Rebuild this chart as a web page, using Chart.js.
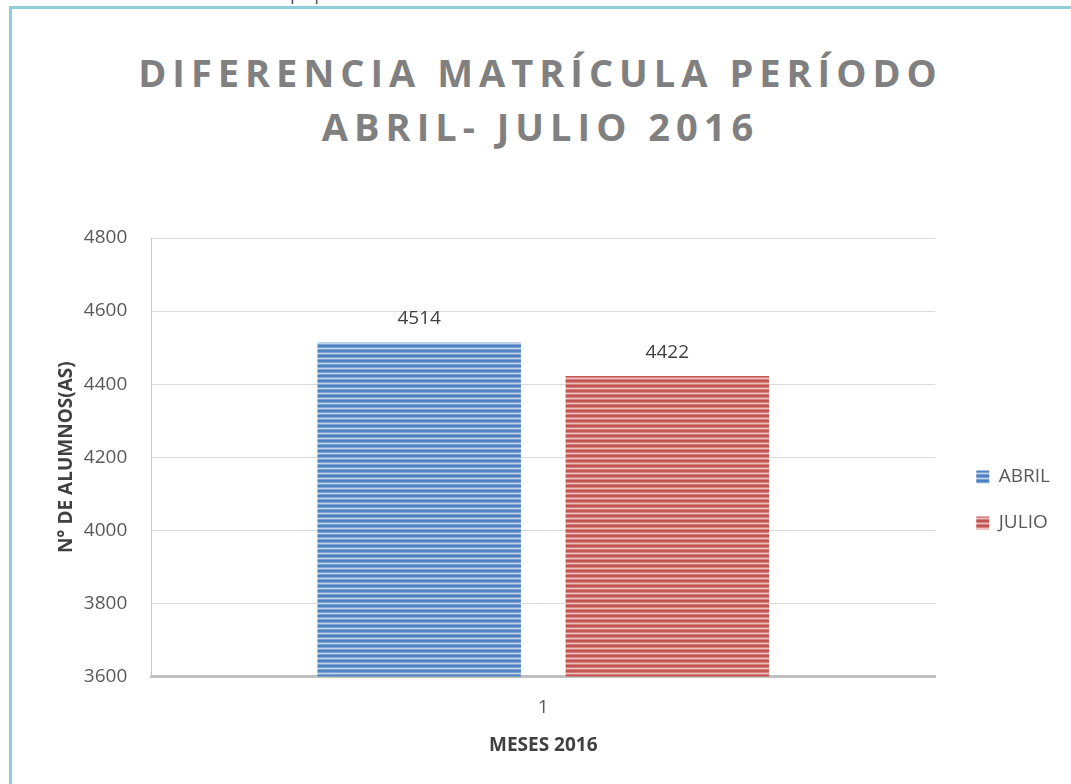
<!DOCTYPE html>
<html>
<head>
<meta charset="utf-8">
<script src="https://cdn.jsdelivr.net/npm/chart.js@4"></script>
<style>
  html, body { margin: 0; padding: 0; background: #fff; }
  #page { position: relative; width: 1071px; height: 784px; overflow: hidden; font-family: "Open Sans", sans-serif; }
  #frame { position: absolute; left: 9px; top: 6px; right: -10px; bottom: -10px; border-left: 3px solid #93CDDD; border-top: 3px solid #93CDDD; }
  #source { position: absolute; left: 148px; top: -16px; font-size: 15px; color: #333; }
  #title { position: absolute; left: 10px; right: 0; top: 45px; text-align: center; font-weight: 700; font-size: 38px; line-height: 54px; letter-spacing: 6px; color: #808080; }
  #chart { position: absolute; left: 0; top: 0; }
</style>
</head>
<body>
<div id="page">
  <div id="source">Fuente: elaboración propia</div>
  <div id="frame"></div>
  <div id="title">DIFERENCIA MATRÍCULA PERÍODO<br>ABRIL- JULIO 2016</div>
  <canvas id="chart" width="1071" height="784"></canvas>
</div>
<script>
const categories = ["1"];
const seriesNames = ["ABRIL", "JULIO"];
const abrilValues = [4514];
const julioValues = [4422];
const yTicks = [3600, 3800, 4000, 4200, 4400, 4600, 4800];

// striped fill like the original
const stripes = (rows) => {
  const c = document.createElement("canvas");
  c.width = 4;
  c.height = rows.length;
  const g = c.getContext("2d");
  rows.forEach((col, i) => {
    g.fillStyle = col;
    g.fillRect(0, i, 4, 1);
  });
  return g.createPattern(c, "repeat");
};
const blueFill = stripes(["#4a7dbd", "#5185c3", "#7ea3d3", "#c3d5ec", "#7ea3d3"]);
const redFill = stripes(["#bf4f4c", "#c45956", "#d4827f", "#edc0bf", "#d4827f"]);

const barLabels = {
  id: "barLabels",
  afterDatasetsDraw(chart) {
    const ctx = chart.ctx;
    ctx.save();
    ctx.font = "19px 'Open Sans'";
    ctx.fillStyle = "#404040";
    ctx.textAlign = "center";
    ctx.textBaseline = "middle";
    chart.data.datasets.forEach((ds, i) => {
      chart.getDatasetMeta(i).data.forEach((bar, j) => {
        ctx.fillText(String(ds.data[j]), bar.x, bar.y - 24);
      });
    });
    ctx.restore();
  },
};

// legend sits a bit away from the plot, as in the original
const legendShift = {
  id: "legendShift",
  afterLayout(chart) {
    chart.legend.left += 14;
    chart.legend.right += 14;
  },
};

new Chart(document.getElementById("chart"), {
  type: "bar",
  data: {
    labels: categories,
    datasets: [
      { label: seriesNames[0], data: abrilValues, backgroundColor: blueFill },
      { label: seriesNames[1], data: julioValues, backgroundColor: redFill },
    ],
  },
  options: {
    responsive: false,
    animation: false,
    categoryPercentage: 0.633,
    barPercentage: 0.82,
    layout: { padding: { left: 51, right: 25, top: 238, bottom: 22 } },
    plugins: {
      legend: {
        position: "right",
        labels: {
          boxWidth: 13,
          boxHeight: 13,
          padding: 27,
          color: "#595959",
          font: { family: "Open Sans", size: 19 },
        },
      },
      tooltip: { enabled: false },
    },
    scales: {
      x: {
        grid: { display: false },
        border: { color: "#C0C0C0", width: 3 },
        ticks: { color: "#595959", font: { family: "Open Sans", size: 19 }, padding: 12 },
        title: {
          display: true,
          text: "MESES 2016",
          color: "#404040",
          font: { family: "Open Sans", size: 19, weight: "bold" },
          padding: { top: 3, bottom: 5 },
        },
      },
      y: {
        min: 3600,
        max: 4800,
        afterBuildTicks: (axis) => {
          axis.ticks = yTicks.map((v) => ({ value: v }));
        },
        grid: { color: "#D9D9D9", drawTicks: false },
        border: { color: "#9ED3E3", width: 1 },
        ticks: {
          color: "#595959",
          font: { family: "Open Sans", size: 19 },
          padding: 24,
          callback: (v) => String(v),
        },
        title: {
          display: true,
          text: "N° DE ALUMNOS(AS)",
          color: "#404040",
          font: { family: "Open Sans", size: 19, weight: "bold" },
          padding: { top: 4, bottom: -18 },
        },
      },
    },
  },
  plugins: [barLabels, legendShift],
});
</script>
</body>
</html>
